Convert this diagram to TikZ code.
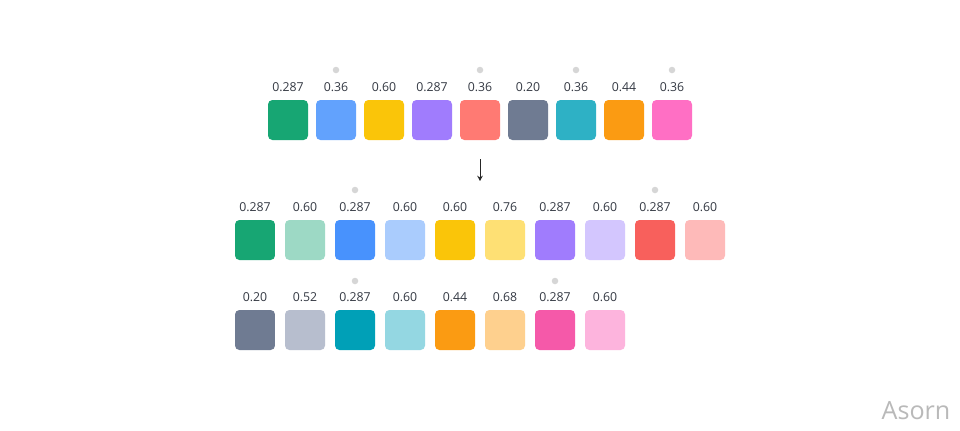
\documentclass[tikz,border=0pt]{standalone}
\usepackage{fontspec}
\usepackage{xcolor}
\usetikzlibrary{arrows.meta}
\newfontfamily\valfont{Open Sans}

% palette
\definecolor{cGreen}{HTML}{17A673}
\definecolor{cGreenL}{HTML}{9DD9C5}
\definecolor{cBlueA}{HTML}{62A2FD}
\definecolor{cBlue}{HTML}{4892FD}
\definecolor{cBlueL}{HTML}{AACCFD}
\definecolor{cYellow}{HTML}{FAC509}
\definecolor{cYellowL}{HTML}{FEE074}
\definecolor{cPurple}{HTML}{A07CFD}
\definecolor{cPurpleL}{HTML}{D3C6FE}
\definecolor{cSalmon}{HTML}{FF7A73}
\definecolor{cRed}{HTML}{F8605C}
\definecolor{cRedL}{HTML}{FEBAB9}
\definecolor{cSlate}{HTML}{6F7B92}
\definecolor{cSlateL}{HTML}{B7BECE}
\definecolor{cTealA}{HTML}{2EB1C5}
\definecolor{cTeal}{HTML}{00A0B7}
\definecolor{cTealL}{HTML}{94D7E2}
\definecolor{cOrange}{HTML}{FB9B12}
\definecolor{cOrangeL}{HTML}{FED08E}
\definecolor{cPinkA}{HTML}{FF6FC4}
\definecolor{cPink}{HTML}{F559A9}
\definecolor{cPinkL}{HTML}{FDB4DD}
\definecolor{txt}{HTML}{353A44}
\definecolor{dotgray}{HTML}{D6D6D6}

\tikzset{
  swatch/.style={rectangle, rounded corners=2.5pt, minimum size=0.8cm, inner sep=0pt, draw=none},
  val/.style={font=\valfont\fontsize{7}{8}\selectfont, text=txt, inner sep=0pt, label distance=0.15cm},
  dot/.style={circle, fill=dotgray, minimum size=0.13cm, inner sep=0pt},
}

\begin{document}
\begin{tikzpicture}[x=0.02cm,y=-0.02cm]
    \useasboundingbox[fill=white] (0,0) rectangle (960,430);

    % Top row
    \node[swatch, fill=cGreen,  label={[val]above:0.287}] (a1) at (288,120) {};
    \node[swatch, fill=cBlueA,  label={[val]above:0.36}]  (a2) at (336,120) {};
    \node[swatch, fill=cYellow, label={[val]above:0.60}]  (a3) at (384,120) {};
    \node[swatch, fill=cPurple, label={[val]above:0.287}] (a4) at (432,120) {};
    \node[swatch, fill=cSalmon, label={[val]above:0.36}]  (a5) at (480,120) {};
    \node[swatch, fill=cSlate,  label={[val]above:0.20}]  (a6) at (528,120) {};
    \node[swatch, fill=cTealA,  label={[val]above:0.36}]  (a7) at (576,120) {};
    \node[swatch, fill=cOrange, label={[val]above:0.44}]  (a8) at (624,120) {};
    \node[swatch, fill=cPinkA,  label={[val]above:0.36}]  (a9) at (672,120) {};
    \node[dot] (da2) at (336,70) {};
    \node[dot] (da5) at (480,70) {};
    \node[dot] (da7) at (576,70) {};
    \node[dot] (da9) at (672,70) {};

    % Arrow
    \coordinate (arrTop) at (480,159);
    \coordinate (arrBot) at (480,181);
    \draw[line width=0.55pt, black!85, -{Stealth[length=3pt,width=3.2pt]}] (arrTop) -- (arrBot);

    % Middle row
    \node[swatch, fill=cGreen,   label={[val]above:0.287}] (b1)  at (255,240) {};
    \node[swatch, fill=cGreenL,  label={[val]above:0.60}]  (b2)  at (305,240) {};
    \node[swatch, fill=cBlue,    label={[val]above:0.287}] (b3)  at (355,240) {};
    \node[swatch, fill=cBlueL,   label={[val]above:0.60}]  (b4)  at (405,240) {};
    \node[swatch, fill=cYellow,  label={[val]above:0.60}]  (b5)  at (455,240) {};
    \node[swatch, fill=cYellowL, label={[val]above:0.76}]  (b6)  at (505,240) {};
    \node[swatch, fill=cPurple,  label={[val]above:0.287}] (b7)  at (555,240) {};
    \node[swatch, fill=cPurpleL, label={[val]above:0.60}]  (b8)  at (605,240) {};
    \node[swatch, fill=cRed,     label={[val]above:0.287}] (b9)  at (655,240) {};
    \node[swatch, fill=cRedL,    label={[val]above:0.60}]  (b10) at (705,240) {};
    \node[dot] (db3) at (355,190) {};
    \node[dot] (db9) at (655,190) {};

    % Bottom row
    \node[swatch, fill=cSlate,   label={[val]above:0.20}]  (c1) at (255,330) {};
    \node[swatch, fill=cSlateL,  label={[val]above:0.52}]  (c2) at (305,330) {};
    \node[swatch, fill=cTeal,    label={[val]above:0.287}] (c3) at (355,330) {};
    \node[swatch, fill=cTealL,   label={[val]above:0.60}]  (c4) at (405,330) {};
    \node[swatch, fill=cOrange,  label={[val]above:0.44}]  (c5) at (455,330) {};
    \node[swatch, fill=cOrangeL, label={[val]above:0.68}]  (c6) at (505,330) {};
    \node[swatch, fill=cPink,    label={[val]above:0.287}] (c7) at (555,330) {};
    \node[swatch, fill=cPinkL,   label={[val]above:0.60}]  (c8) at (605,330) {};
    \node[dot] (dc3) at (355,281) {};
    \node[dot] (dc7) at (555,281) {};

    % Watermark
    \node[font=\valfont\fontsize{14.3}{16}\selectfont, text=gray!55, inner sep=0pt] (mark) at (916,411) {Asorn};

\end{tikzpicture}
\end{document}
